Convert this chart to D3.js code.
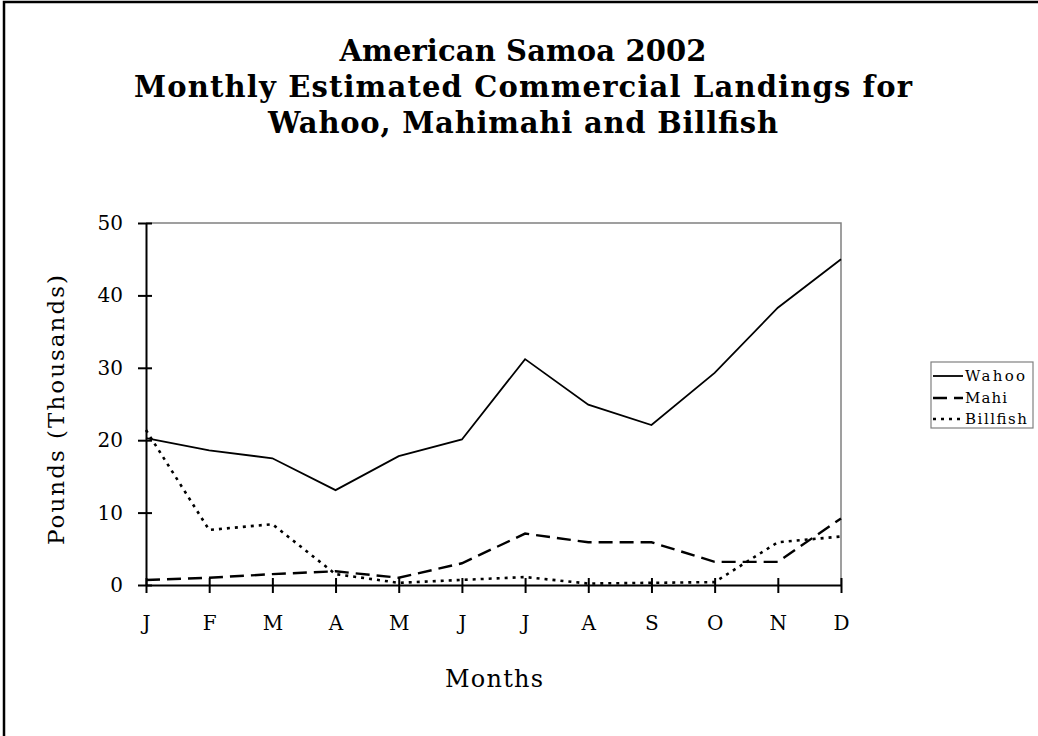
<!DOCTYPE html>
<html>
<head>
<meta charset="utf-8">
<script src="https://cdn.jsdelivr.net/npm/d3@7/dist/d3.min.js"></script>
<style>
  html, body { margin: 0; padding: 0; background: #fff; }
  svg { display: block; }
  text { font-family: "DejaVu Serif", serif; fill: #000; }
</style>
</head>
<body>
<svg id="chart" width="1038" height="736"></svg>
<script>
const months = ["J","F","M","A","M","J","J","A","S","O","N","D"];
const wahoo    = [20.3, 18.6, 17.5, 13.1, 17.8, 20.1, 31.2, 24.9, 22.1, 29.3, 38.3, 45.0];
const mahi     = [0.7, 1.0, 1.5, 1.9, 1.0, 3.0, 7.1, 5.9, 5.9, 3.2, 3.2, 9.2];
const billfish = [21.4, 7.6, 8.4, 1.5, 0.3, 0.7, 1.1, 0.2, 0.3, 0.4, 5.9, 6.7];
const seriesNames = ["Wahoo", "Mahi", "Billfish"];
const yTicks = [0, 10, 20, 30, 40, 50];
const titleLines = ["American Samoa 2002", "Monthly Estimated Commercial Landings for", "Wahoo, Mahimahi and Billfish"];

const svg = d3.select("#chart");

// outer frame
svg.append("rect").attr("x", 4).attr("y", 2).attr("width", 1100).attr("height", 800)
  .attr("fill", "none").attr("stroke", "#000").attr("stroke-width", 2.5);

const x = d3.scalePoint().domain(d3.range(months.length)).range([146, 841]);
const y = d3.scaleLinear().domain([0, 50]).range([585, 223]);

// plot area frame (gray top/right)
svg.append("path")
  .attr("d", `M${x(0)},${y(50)}H${x(11)}V${y(0)}`)
  .attr("fill", "none").attr("stroke", "#808080").attr("stroke-width", 1.5);

// title
const titleWidths = [367, 778, 510];
titleLines.forEach((t, i) => {
  svg.append("text").attr("text-anchor", "middle").attr("x", 523).attr("y", 61 + i * 36)
    .attr("textLength", titleWidths[i]).attr("lengthAdjust", "spacing")
    .attr("font-weight", "bold").attr("font-size", 29).text(t);
});

// y axis
const yAxis = d3.axisLeft(y).tickValues(yTicks).tickSize(0).tickPadding(23);
const gy = svg.append("g").attr("transform", `translate(${x(0)},0)`).call(yAxis);
gy.select(".domain").attr("stroke", "#000").attr("stroke-width", 2);
gy.selectAll(".tick text").attr("font-size", 20).attr("font-family", "DejaVu Serif").attr("fill", "#000");
gy.selectAll(".tick").append("line").attr("x1", -8).attr("x2", 6).attr("stroke", "#000").attr("stroke-width", 2);

// x axis
const xAxis = d3.axisBottom(x).tickFormat(i => months[i]).tickSize(0).tickPadding(31);
const gx = svg.append("g").attr("transform", `translate(0,${y(0)})`).call(xAxis);
gx.select(".domain").attr("stroke", "#000").attr("stroke-width", 2);
gx.selectAll(".tick text").attr("font-size", 20).attr("font-family", "DejaVu Serif").attr("fill", "#000");
gx.selectAll(".tick").append("line").attr("y1", -7).attr("y2", 8).attr("stroke", "#000").attr("stroke-width", 2);

// axis titles
svg.append("text").attr("transform", "translate(56,410) rotate(-90)")
  .attr("text-anchor", "middle").attr("font-size", 23).attr("dominant-baseline", "central")
  .attr("textLength", 270).attr("lengthAdjust", "spacing")
  .text("Pounds (Thousands)");
svg.append("text").attr("x", 494).attr("y", 687).attr("text-anchor", "middle")
  .attr("font-size", 24).attr("textLength", 98).attr("lengthAdjust", "spacing").text("Months");

// lines
const line = d3.line().x((d, i) => x(i)).y(d => y(d));
const styles = [
  { data: wahoo, dash: null, w: 1.8 },
  { data: mahi, dash: "14,7", w: 2.4 },
  { data: billfish, dash: "3,5", w: 2.6 }
];
styles.forEach(s => {
  svg.append("path").datum(s.data).attr("d", line)
    .attr("fill", "none").attr("stroke", "#000").attr("stroke-width", s.w)
    .attr("stroke-dasharray", s.dash);
});

// legend
const lg = svg.append("g");
lg.append("rect").attr("x", 931).attr("y", 362).attr("width", 102).attr("height", 66)
  .attr("fill", "#fff").attr("stroke", "#808080").attr("stroke-width", 1.2);
const legendY = [376, 398, 419];
const legendW = [60, 42, 62];
seriesNames.forEach((n, i) => {
  const s = styles[i];
  lg.append("line").attr("x1", 933).attr("x2", 963).attr("y1", legendY[i]).attr("y2", legendY[i])
    .attr("stroke", "#000").attr("stroke-width", s.w).attr("stroke-dasharray", s.dash);
  lg.append("text").attr("x", 965).attr("y", legendY[i]).attr("dominant-baseline", "central")
    .attr("font-size", 15).attr("textLength", legendW[i]).attr("lengthAdjust", "spacing").text(n);
});
</script>
</body>
</html>
